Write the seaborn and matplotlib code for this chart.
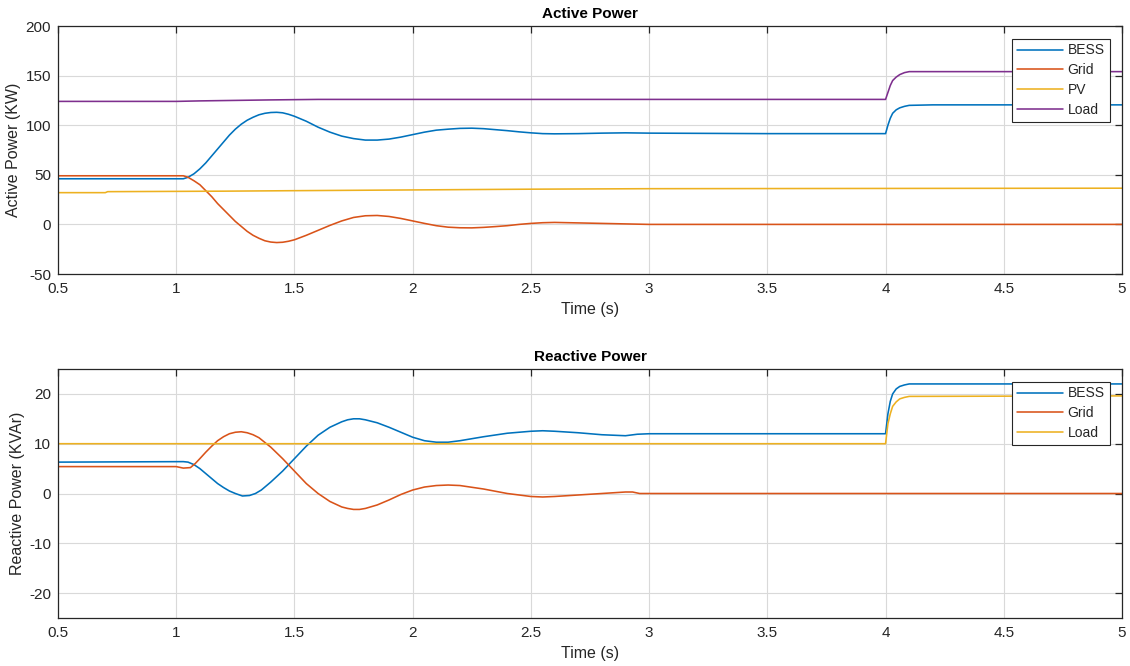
import numpy as np
import pandas as pd
import seaborn as sns
import matplotlib.pyplot as plt

# values (time in s)
p_bess_t = [0.5, 1.0, 1.03, 1.05, 1.075, 1.1, 1.125, 1.15, 1.175, 1.2, 1.225, 1.25, 1.275, 1.3, 1.325,
            1.35, 1.375, 1.4, 1.425, 1.45, 1.475, 1.5, 1.55, 1.6, 1.65, 1.7, 1.75, 1.8, 1.85, 1.9,
            1.95, 2.0, 2.05, 2.1, 2.15, 2.2, 2.25, 2.3, 2.35, 2.4, 2.45, 2.5, 2.55, 2.6, 2.7, 2.8,
            2.9, 3.0, 3.5, 4.0, 4.01, 4.02, 4.03, 4.045, 4.06, 4.08, 4.1, 4.2, 5.0]
p_bess = [46, 46, 46, 47.5, 51, 56, 62, 69, 76, 83, 90, 96, 101, 105, 108,
          110.5, 112, 112.8, 113, 112.5, 111, 109, 104, 98, 93, 89, 86.5, 85, 85, 86,
          88, 90.5, 93, 95, 96, 96.8, 97, 96.5, 95.5, 94.5, 93.3, 92.3, 91.5, 91.3, 91.5, 92,
          92.3, 92, 91.5, 91.5, 100, 107, 112, 115.5, 117.5, 119, 120, 120.5, 120.5]

p_grid_t = [0.5, 1.03, 1.05, 1.075, 1.1, 1.125, 1.15, 1.175, 1.2, 1.225, 1.25, 1.275, 1.3, 1.325,
            1.35, 1.375, 1.4, 1.425, 1.45, 1.475, 1.5, 1.55, 1.6, 1.65, 1.7, 1.75, 1.8, 1.85, 1.9,
            1.95, 2.0, 2.05, 2.1, 2.15, 2.2, 2.25, 2.3, 2.35, 2.4, 2.45, 2.5, 2.55, 2.6, 2.7, 2.8,
            2.9, 3.0, 5.0]
p_grid = [49, 49, 47.5, 44, 40, 34, 28, 21, 15, 9, 3, -2, -7, -11,
          -14, -16.5, -17.8, -18.3, -18, -17, -15.5, -11, -6, -1, 3.5, 7, 8.7, 9, 8,
          6, 3.5, 1, -1.3, -2.8, -3.4, -3.5, -3, -2.2, -1.3, 0, 1, 1.7, 2, 1.5, 1,
          0.5, 0, 0]

p_pv_t = [0.5, 0.7, 0.71, 1.2, 1.5, 2.5, 3.0, 5.0]
p_pv = [32, 32, 33, 33.5, 34, 35.5, 36, 36.5]

p_load_t = [0.5, 1.0, 1.1, 1.4, 1.6, 4.0, 4.01, 4.02, 4.03, 4.045, 4.06, 4.08, 4.1, 5.0]
p_load = [124, 124, 124.5, 125.5, 126, 126, 133, 140, 145, 148.5, 151, 153, 154, 154]

q_bess_t = [0.5, 1.03, 1.05, 1.075, 1.1, 1.125, 1.15, 1.175, 1.2, 1.225, 1.25, 1.28, 1.31, 1.335,
            1.36, 1.4, 1.45, 1.5, 1.55, 1.6, 1.65, 1.7, 1.725, 1.75, 1.775, 1.8, 1.85, 1.9, 1.95,
            2.0, 2.05, 2.1, 2.15, 2.2, 2.3, 2.4, 2.5, 2.55, 2.6, 2.7, 2.8, 2.9, 2.95, 3.0, 4.0,
            4.01, 4.02, 4.03, 4.045, 4.06, 4.08, 4.1, 5.0]
q_bess = [6.3, 6.4, 6.3, 5.8, 5.0, 4.0, 3.0, 2.0, 1.2, 0.5, 0, -0.5, -0.4, 0,
          0.7, 2.3, 4.5, 7.0, 9.5, 11.7, 13.3, 14.4, 14.8, 15, 15, 14.8, 14.2, 13.3, 12.3,
          11.3, 10.6, 10.3, 10.3, 10.6, 11.4, 12.1, 12.5, 12.6, 12.5, 12.2, 11.8, 11.6, 11.9, 12, 12,
          16, 18.5, 20, 21, 21.5, 21.8, 22, 22]

q_grid_t = [0.5, 1.0, 1.03, 1.06, 1.08, 1.1, 1.125, 1.15, 1.175, 1.2, 1.225, 1.25, 1.275, 1.3, 1.325,
            1.35, 1.4, 1.45, 1.5, 1.55, 1.6, 1.65, 1.7, 1.725, 1.75, 1.775, 1.8, 1.85, 1.9, 1.95,
            2.0, 2.05, 2.1, 2.15, 2.2, 2.3, 2.4, 2.5, 2.55, 2.6, 2.7, 2.8, 2.9, 2.93, 2.96, 5.0]
q_grid = [5.4, 5.4, 5.1, 5.2, 6.0, 7, 8.3, 9.5, 10.6, 11.4, 12.0, 12.3, 12.4, 12.2, 11.8,
          11.2, 9.3, 7, 4.5, 2, 0, -1.6, -2.7, -3.0, -3.2, -3.2, -3.0, -2.3, -1.3, -0.2,
          0.7, 1.3, 1.6, 1.7, 1.6, 0.9, 0, -0.6, -0.7, -0.6, -0.3, 0, 0.3, 0.3, 0, 0]

q_load_t = [0.5, 4.0, 4.01, 4.02, 4.03, 4.045, 4.06, 4.08, 4.1, 5.0]
q_load = [10, 10, 14, 16, 17.5, 18.4, 19, 19.3, 19.5, 19.6]

matlab = ["#0072BD", "#D95319", "#EDB120", "#7E2F8E"]


def to_frame(series):
    parts = []
    for name, t, v in series:
        parts.append(pd.DataFrame({"t": t, "v": v, "src": name}))
    return pd.concat(parts, ignore_index=True)


active = to_frame([("BESS", p_bess_t, p_bess), ("Grid", p_grid_t, p_grid),
                   ("PV", p_pv_t, p_pv), ("Load", p_load_t, p_load)])
reactive = to_frame([("BESS", q_bess_t, q_bess), ("Grid", q_grid_t, q_grid),
                     ("Load", q_load_t, q_load)])

sns.set_style("white")
plt.rcParams['font.family'] = ['Liberation Sans', 'DejaVu Sans']
plt.rcParams['axes.unicode_minus'] = False

fig = plt.figure(figsize=(11.3, 6.66), dpi=100)
ax1 = fig.add_axes([58 / 1130, (666 - 274) / 666, 1064 / 1130, 248 / 666])
ax2 = fig.add_axes([58 / 1130, (666 - 618) / 666, 1064 / 1130, 249 / 666])


def style(ax, title, ylabel, ylim, yticks):
    ax.set_xlim(0.5, 5)
    ax.set_ylim(*ylim)
    ax.set_xticks(np.arange(0.5, 5.01, 0.5))
    ax.set_xticklabels(["0.5", "1", "1.5", "2", "2.5", "3", "3.5", "4", "4.5", "5"])
    ax.set_yticks(yticks)
    ax.grid(True, color="#d9d9d9", linewidth=0.8)
    ax.set_axisbelow(True)
    for s in ax.spines.values():
        s.set_color("#262626")
        s.set_linewidth(0.9)
        s.set_visible(True)
    ax.tick_params(direction="in", length=5, width=0.9, colors="#262626",
                   labelsize=11, top=True, right=True, labelcolor="#262626")
    ax.tick_params(axis="x", pad=6)
    ax.tick_params(axis="y", pad=5)
    ax.set_title(title, fontsize=11, fontweight="bold", color="#000000", pad=6)
    ax.set_xlabel("Time (s)", fontsize=11.5, color="#262626", labelpad=4)
    ax.set_ylabel(ylabel, fontsize=11.5, color="#262626", labelpad=3)
    leg = ax.legend(loc="upper right", fontsize=10, frameon=True, fancybox=False,
                    borderaxespad=0.9, handlelength=3.3, handletextpad=0.35,
                    labelspacing=0.42, borderpad=0.35)
    leg.get_frame().set_edgecolor("#262626")
    leg.get_frame().set_linewidth(0.8)
    leg.get_frame().set_alpha(1)


sns.lineplot(data=active, x="t", y="v", hue="src", palette=matlab[:4], estimator=None,
             sort=False, linewidth=1.15, ax=ax1)
style(ax1, "Active Power", "Active Power (KW)", (-50, 200), np.arange(-50, 201, 50))

sns.lineplot(data=reactive, x="t", y="v", hue="src", palette=matlab[:3], estimator=None,
             sort=False, linewidth=1.15, ax=ax2)
style(ax2, "Reactive Power", "Reactive Power (KVAr)", (-25, 25), np.arange(-20, 21, 10))

fig.savefig("out.png", dpi=100)
